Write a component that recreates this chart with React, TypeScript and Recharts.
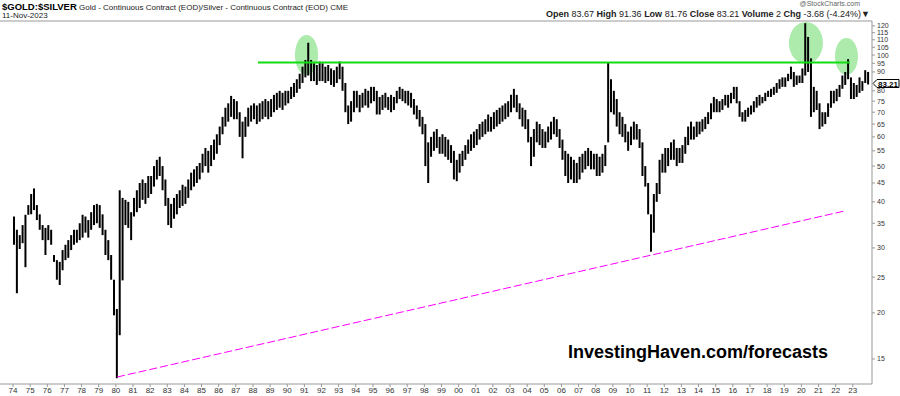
import React from 'react';
import { Bar, ComposedChart, ReferenceArea, ReferenceLine, XAxis, YAxis } from 'recharts';

// two-month periods, six per year, starting Jan 1974
const startYear = 1974;
const periodsPerYear = 6;

const highs = [
  36.5, 33.6, 32.5, 34.6, 36.9, 39.2, 42, 43.5, 39.2, 37, 34.6, 34, // 74-75
  34.6, 33.6, 28.7, 27.8, 27.5, 29.6, 30.6, 31.5, 32.5, 33.6, 33.6, 35, // 76-77
  36.9, 36.5, 35.7, 37.5, 39.2, 39.5, 39.2, 37, 33.6, 31.5, 28.7, 24.6, // 78-79
  20.5, 43, 41, 40.5, 40, 37.5, 41, 43, 45, 46, 45, 47, // 80-81
  47, 50, 52, 53, 50, 46, 41, 39.5, 41, 42, 43, 44.5, // 82-83
  44, 46, 48, 49, 50, 51, 54, 56, 55, 57, 59, 61, // 84-85
  64, 68, 72, 74, 77.5, 76, 75, 70, 66, 68, 72, 73, // 86-87
  74, 73, 74, 75, 76, 75, 76, 78, 79, 80, 79, 80, // 88-89
  80, 82, 84, 86, 89, 93, 97, 108, 97, 95, 94, 96, // 90-91
  95, 93, 94, 92, 91, 93, 96, 93, 84, 73, 75, 80, // 92-93
  80, 78, 79, 81, 80, 82, 82, 80, 77, 78, 79, 77, // 94-95
  78, 77, 80, 82, 81, 80, 80, 79, 76, 73, 71, 68, // 96-97
  65, 58, 60, 62, 63, 60, 61, 60, 59, 57, 55, 52, // 98-99
  54, 55, 57, 59, 61, 62, 63, 65, 66, 67, 69, 68, // 00-01
  70, 71, 72, 73, 74, 75, 78, 81, 78, 74, 72, 71, // 02-03
  67, 60, 63, 66, 65, 63, 62, 64, 66, 68, 67, 63, // 04-05
  59, 55, 54, 53, 52, 51, 53, 54, 55, 56, 55, 54, // 06-07
  54, 53, 54, 57, 95.5, 86, 80, 76, 70, 68, 65, 62, // 08-09
  64, 66, 65, 63, 58, 50, 45, 37, 42, 45, 52, 54, // 10-11
  56, 56, 58, 59, 56, 56, 57, 60, 64, 66, 64, 66, // 12-13
  66, 67, 68, 70, 74, 77, 76, 75, 76, 78, 78, 79, // 14-15
  82, 82, 75, 70, 71, 72, 73, 75, 77, 78, 77, 79, // 16-17
  80, 81, 82, 84, 86, 87, 87, 89, 93, 90, 88, 88, // 18-19
  92, 122, 112, 98, 82, 80, 74, 70, 70, 74, 80, 80, // 20-21
  81, 83, 88, 90, 97.5, 87, 84, 83, 87, 85, 91, 90, // 22-23
];

const lows = [
  30.6, 22.6, 29.8, 30.9, 26.6, 36.9, 37, 38, 35.7, 33.6, 31.5, 28.7, // 74-75
  31.5, 30.6, 27.5, 24.6, 23.8, 26.1, 27.8, 28.2, 29.6, 30.6, 31, 31.5, // 76-77
  32, 33, 32, 33.6, 34.6, 35, 34, 32.5, 28.7, 27.8, 24.6, 19.7, // 78-79
  13.3, 17.4, 24.5, 34.6, 34, 31.5, 36.5, 37.5, 38.5, 40.5, 39.5, 41, // 80-81
  42, 44, 46, 47, 43, 39, 34.6, 34, 36, 37, 38.5, 39, // 82-83
  39.5, 41, 43, 44, 45, 46, 48, 50, 48, 50, 52, 54, // 84-85
  57, 61, 64, 66, 68, 67, 67, 60, 52.5, 60, 64, 66, // 86-87
  67, 65, 66, 67, 68, 67, 68, 70, 71, 72, 71, 73, // 88-89
  74, 76, 77, 79, 81, 84, 87, 88, 85, 85, 83, 85, // 90-91
  85, 84, 85, 83, 82, 84, 86, 80, 70, 65, 66, 70, // 92-93
  72, 70, 72, 73, 72, 74, 75, 69, 69, 71, 72, 71, // 94-95
  70, 71, 74, 76, 75, 74, 73, 72, 69, 67, 64, 61, // 96-97
  50, 45, 53, 55, 56, 54, 54, 53, 52, 51, 46, 45.5, // 98-99
  48, 50, 52, 54, 55, 56, 57, 59, 60, 61, 62, 62, // 00-01
  63, 64, 65, 66, 67, 68, 70, 72, 70, 67, 64, 63, // 02-03
  58, 50, 53, 58, 57, 56, 56, 58, 59, 61, 60, 56, // 04-05
  52, 47, 45, 46, 45, 45, 46, 48, 49, 50, 49, 49, // 06-07
  47, 47, 48, 50, 58, 70, 69, 64, 61, 60, 58, 55, // 08-09
  57, 59, 59, 56, 47, 44, 37, 29.3, 33, 40, 42, 48, // 10-11
  48, 50, 52, 52, 50, 51, 51, 54, 57, 59, 59, 60, // 12-13
  61, 62, 63, 65, 67, 70, 70, 70, 71, 73, 72, 74, // 14-15
  76, 74, 68, 66, 66, 68, 69, 70, 72, 73, 74, 75, // 16-17
  77, 77, 78, 79, 81, 82, 82, 85, 86, 82, 83, 84, // 18-19
  84, 88, 90, 68, 70, 71, 63, 64, 65, 68, 72, 74, // 20-21
  75, 77, 81, 83, 86, 76, 76, 77, 79, 80, 84, 83.21, // 22-23
];

const yearTicks = [
  1974, 1975, 1976, 1977, 1978, 1979, 1980, 1981, 1982, 1983, 1984, 1985, 1986, 1987, 1988, 1989,
  1990, 1991, 1992, 1993, 1994, 1995, 1996, 1997, 1998, 1999, 2000, 2001, 2002, 2003, 2004, 2005,
  2006, 2007, 2008, 2009, 2010, 2011, 2012, 2013, 2014, 2015, 2016, 2017, 2018, 2019, 2020, 2021,
  2022, 2023,
];
// 85 sits under the last-close tag, as on the original
const priceTicks = [15, 20, 25, 30, 35, 40, 45, 50, 55, 60, 65, 70, 75, 80, 90, 95, 100, 105, 110, 115, 120];

const lastClose = 83.21;
const resistance = { from: 1988.29, to: 2022.83, value: 95.5 };
const support = [
  { x: 1980.07, y: 13.4 },
  { x: 2022.54, y: 37.8 },
];
const highlights = [
  { x1: 1990.45, x2: 1991.8, y1: 88.3, y2: 113.4 },
  { x1: 2019.27, x2: 2021.26, y1: 94.6, y2: 123 },
  { x1: 2021.96, x2: 2023.3, y1: 88.3, y2: 111.3 },
];

const data = highs.map((h, i) => ({
  t: startYear + (i + 0.5) / periodsPerYear,
  range: [lows[i], h],
}));

const font = 'Liberation Sans, Arial, sans-serif';

const Ellipse = (p: any) => (
  <ellipse
    cx={p.x + p.width / 2}
    cy={p.y + p.height / 2}
    rx={Math.abs(p.width) / 2}
    ry={Math.abs(p.height) / 2}
    fill="#33cc33"
    fillOpacity={0.4}
  />
);

const CloseTag = (p: any) => {
  const { x, y, width } = p.viewBox;
  const left = x + width;
  return (
    <g>
      <polygon
        points={`${left + 1},${y - 1} ${left + 5},${y - 5} ${left + 27},${y - 5} ${left + 27},${y + 3} ${left + 5},${y + 3}`}
        fill="#fff"
        stroke="#000"
        strokeWidth={1}
      />
      <text x={left + 16} y={y + 2} textAnchor="middle" fontSize={8} fontWeight="bold" fontFamily={font} fill="#000">
        {lastClose}
      </text>
    </g>
  );
};

export default function App() {
  return (
    <div style={{ position: 'absolute', left: 0, top: 0, width: 900, height: 396, background: '#fff', fontFamily: font }}>
      <div style={{ position: 'absolute', left: 2, top: 1, fontSize: 8, whiteSpace: 'nowrap', color: '#222' }}>
        <b style={{ fontSize: 9.5, color: '#000' }}>$GOLD:$SILVER</b> Gold - Continuous Contract (EOD)/Silver - Continuous Contract (EOD) CME
      </div>
      <div style={{ position: 'absolute', left: 2, top: 11, fontSize: 8, color: '#222' }}>11-Nov-2023</div>
      <div style={{ position: 'absolute', right: 40, top: 0, fontSize: 7, color: '#666' }}>@StockCharts.com</div>
      <div style={{ position: 'absolute', right: 30, top: 9, fontSize: 9, whiteSpace: 'nowrap', color: '#222' }}>
        <b>Open</b> 83.67 <b>High</b> 91.36 <b>Low</b> 81.76 <b>Close</b> 83.21 <b>Volume</b> 2 <b>Chg</b> -3.68 (-4.24%)▼
      </div>

      <ComposedChart width={900} height={396} data={data} margin={{ top: 21, right: 0, bottom: 0, left: 0 }}>
        <XAxis
          dataKey="t"
          type="number"
          domain={[1973.24, 2024.12]}
          allowDataOverflow
          ticks={yearTicks}
          tickFormatter={(v: number) => String(v).slice(2)}
          interval={0}
          height={12}
          tickSize={3}
          tickMargin={0}
          stroke="#999"
          tick={{ fontSize: 8, fill: '#333', fontFamily: font }}
        />
        <YAxis
          orientation="right"
          type="number"
          scale="log"
          domain={[12.83, 123.7]}
          allowDataOverflow
          ticks={priceTicks}
          interval={0}
          width={28}
          tickSize={3}
          tickMargin={2}
          stroke="#999"
          tick={{ fontSize: 7, fill: '#333', fontFamily: font }}
        />
        <ReferenceLine y={123.7} stroke="#999" ifOverflow="extendDomain" />
        <Bar dataKey="range" fill="#000" barSize={2} isAnimationActive={false} />
        {highlights.map((h, i) => (
          <ReferenceArea key={i} x1={h.x1} x2={h.x2} y1={h.y1} y2={h.y2} shape={Ellipse} ifOverflow="visible" />
        ))}
        <ReferenceLine
          segment={[
            { x: resistance.from, y: resistance.value },
            { x: resistance.to, y: resistance.value },
          ]}
          stroke="#11dd11"
          strokeWidth={2}
        />
        <ReferenceLine segment={support} stroke="#ff00ff" strokeWidth={1} strokeDasharray="8 3" />
        <ReferenceLine y={lastClose} stroke="none" label={<CloseTag />} />
      </ComposedChart>

      <div
        style={{
          position: 'absolute',
          left: 568,
          top: 342,
          fontSize: 18,
          fontWeight: 'bold',
          color: '#000',
          whiteSpace: 'nowrap',
        }}
      >
        InvestingHaven.com/forecasts
      </div>
    </div>
  );
}
